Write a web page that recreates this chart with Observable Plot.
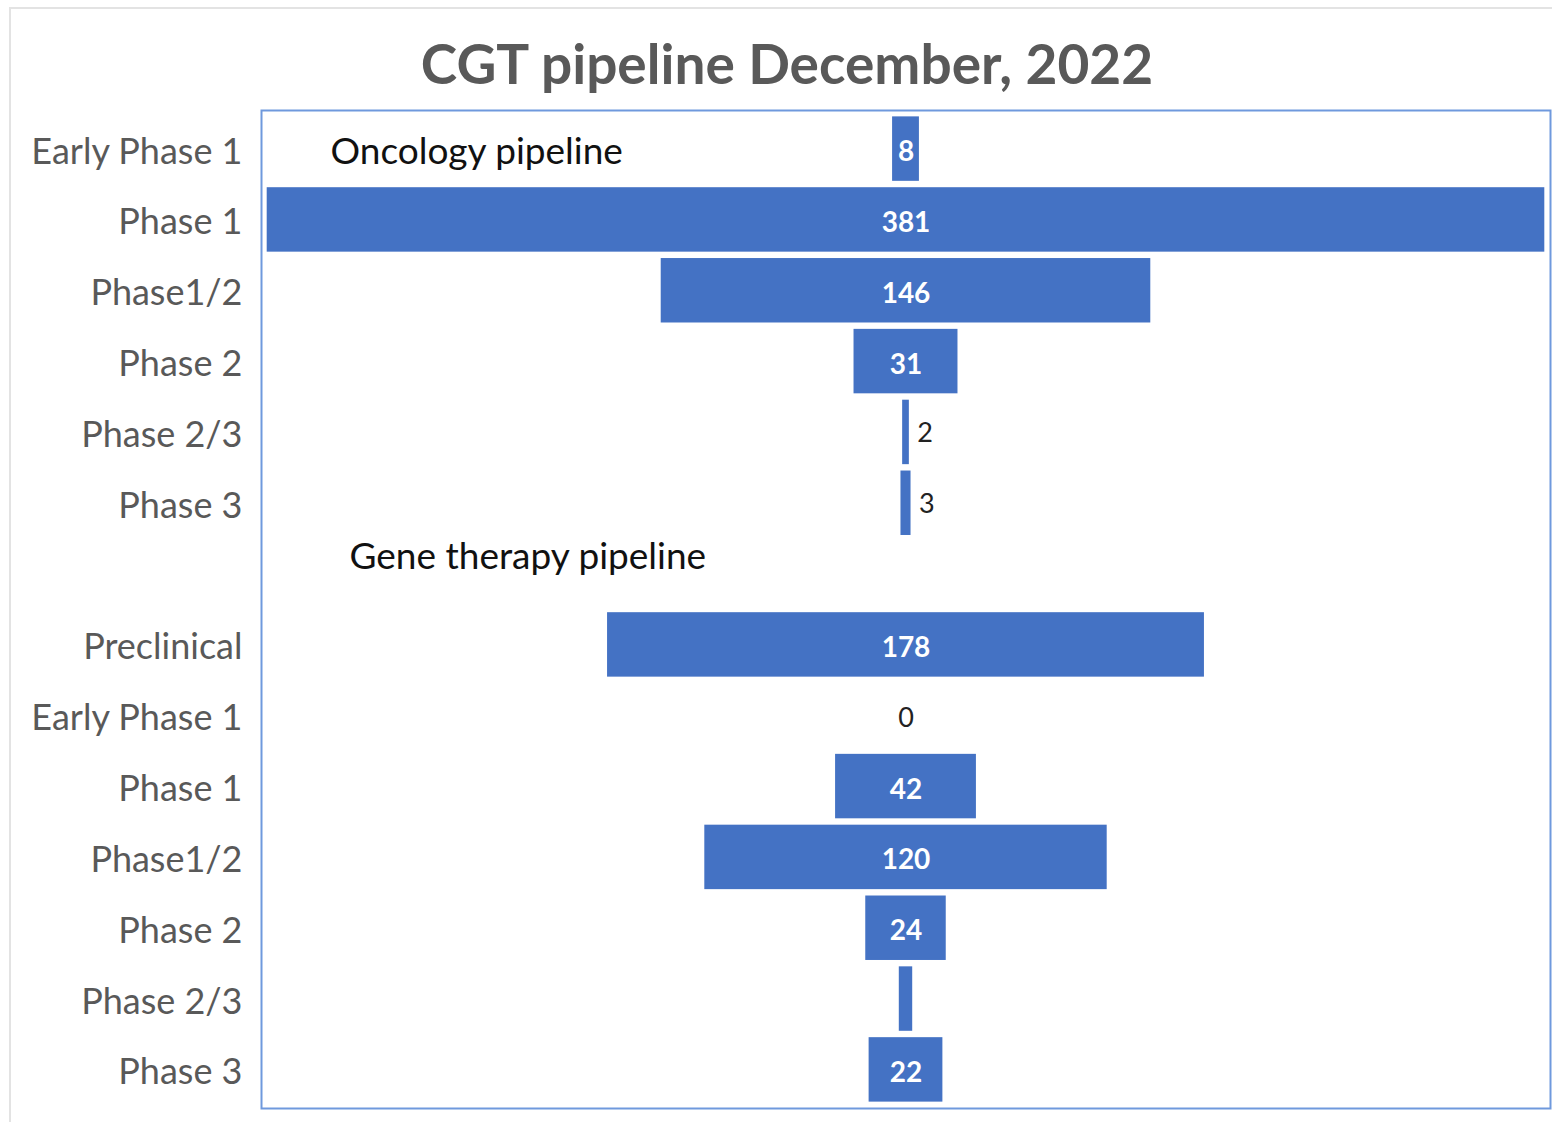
<!DOCTYPE html>
<html>
<head>
<meta charset="utf-8">
<script src="https://cdn.jsdelivr.net/npm/d3@7"></script>
<script src="https://cdn.jsdelivr.net/npm/@observablehq/plot@0.6"></script>
<style>
  html, body { margin: 0; padding: 0; background: #fff; overflow: hidden; }
  #wrap { position: relative; width: 1552px; height: 1122px; overflow: hidden; font-family: Lato, "Open Sans", sans-serif; }
  #outer { position: absolute; left: 9px; top: 7px; width: 1600px; height: 1200px; border: 2px solid #e3e3e3; box-sizing: border-box; }
  #title { position: absolute; left: 0; top: 28px; width: 1574px; text-align: center; font-size: 55px; font-weight: bold; color: #595959; line-height: 70px; }
  #chart { position: absolute; left: 0; top: 100px; }
</style>
</head>
<body>
<div id="wrap">
  <div id="outer"></div>
  <div id="title">CGT pipeline December, 2022</div>
  <div id="chart"></div>
</div>
<script>
const oncologyStages = ["Early Phase 1", "Phase 1", "Phase1/2", "Phase 2", "Phase 2/3", "Phase 3"];
const oncologyCounts = [8, 381, 146, 31, 2, 3];
const geneStages = ["Preclinical", "Early Phase 1", "Phase 1", "Phase1/2", "Phase 2", "Phase 2/3", "Phase 3"];
const geneCounts = [178, 0, 42, 120, 24, 4, 22];
const geneLabelShown = [true, true, true, true, true, false, true];
const groupTitles = ["Oncology pipeline", "Gene therapy pipeline"];

const rows = [];
oncologyStages.forEach((s, i) => rows.push({key: "o" + i, stage: s, value: oncologyCounts[i], show: true}));
rows.push({key: "gap", stage: "", value: null, show: false});
geneStages.forEach((s, i) => rows.push({key: "g" + i, stage: s, value: geneCounts[i], show: geneLabelShown[i]}));
const stageOf = new Map(rows.map(r => [r.key, r.stage]));
const bars = rows.filter(r => r.value != null);
const inside = bars.filter(r => r.show && r.value >= 8);
const outside = bars.filter(r => r.show && r.value > 0 && r.value < 8);
const zero = bars.filter(r => r.show && r.value === 0);

const blue = "#4472C4";
const chart = Plot.plot({
  width: 1552,
  height: 1022,
  marginTop: 10,
  marginBottom: 14,
  marginLeft: 261,
  marginRight: 2,
  style: {fontFamily: "Lato, 'Open Sans', sans-serif", background: "transparent"},
  x: {domain: [-192.2, 192.2], axis: null},
  y: {domain: rows.map(r => r.key), padding: 0.09, round: false, label: null},
  marks: [
    Plot.axisY({tickSize: 0, tickPadding: 19, fontSize: 36, fill: "#595959", dy: 3, tickFormat: k => stageOf.get(k), label: null}),
    Plot.barX(bars, {x1: d => -d.value / 2, x2: d => d.value / 2, y: "key", fill: blue}),
    Plot.text(inside, {x: 0, y: "key", text: d => String(d.value), fill: "white", fontWeight: "bold", fontSize: 28, dy: 3}),
    Plot.text(outside, {x: d => d.value / 2, y: "key", text: d => String(d.value), fill: "#222", fontSize: 27, textAnchor: "start", dx: 8, dy: 1}),
    Plot.text(zero, {x: 0, y: "key", text: d => String(d.value), fill: "#222", fontSize: 27, dy: 3}),
    Plot.text([groupTitles[0]], {y: () => "o0", frameAnchor: "left", dx: 69, dy: 3, textAnchor: "start", fontSize: 37, fill: "#111"}),
    Plot.text([groupTitles[1]], {y: () => "gap", frameAnchor: "left", dx: 88, dy: -17, textAnchor: "start", fontSize: 37, fill: "#111"}),
    Plot.frame({stroke: "#6f99dd", strokeWidth: 2})
  ]
});
document.getElementById("chart").appendChild(chart);
</script>
</body>
</html>
